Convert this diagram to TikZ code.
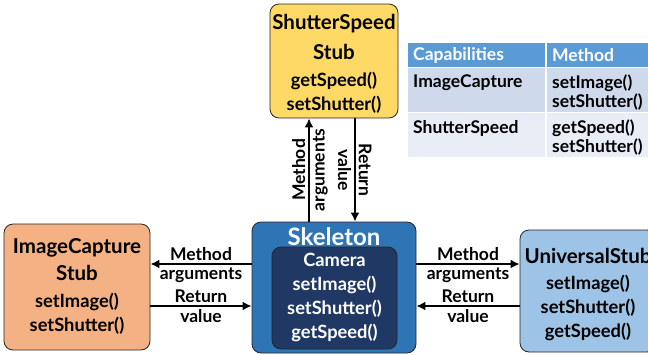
\documentclass[tikz,border=0pt]{standalone}
\usepackage{fontspec}
\setmainfont{Lato}
\usetikzlibrary{arrows.meta,positioning}

\definecolor{shutterfill}{HTML}{FFD966}
\definecolor{capturefill}{HTML}{F4B183}
\definecolor{skelfill}{HTML}{2E75B6}
\definecolor{camfill}{HTML}{1F3864}
\definecolor{univfill}{HTML}{9DC3E6}
\definecolor{headfill}{HTML}{5B9BD5}
\definecolor{oddfill}{HTML}{CFD9EC}
\definecolor{evenfill}{HTML}{E8EDF6}

\newcommand{\titlesize}{\fontsize{20.5}{24}\selectfont}
\newcommand{\methsize}{\fontsize{18.3}{24}\selectfont}

\begin{document}
\begin{tikzpicture}[x=1pt,y=-1pt,>={Latex[length=9pt,width=9pt]},font=\bfseries]
\tikzset{box/.style={draw=black!85,line width=0.8pt,rounded corners=9pt,inner sep=0pt}}
\tikzset{boxtext/.style={align=center,inner sep=0pt,font=\methsize\bfseries}}
\tikzset{flow/.style={->,line width=2.6pt}}
\tikzset{lbl/.style={font=\fontsize{17.5}{18}\selectfont\bfseries,inner sep=2.5pt}}
\tikzset{cell/.style={anchor=north west,inner sep=0pt,minimum height=44}}
\tikzset{celltext/.style={anchor=north west,inner sep=0pt,align=left,font=\fontsize{17.5}{19}\selectfont\bfseries}}

\useasboundingbox (0,0) rectangle (648,354);

% stubs
\node[box,fill=shutterfill,minimum width=128,minimum height=114] (shutter) at (334,61) {};
\node[boxtext] (shuttertext) at (334,64) {{\titlesize ShutterSpeed}\\[6pt]{\titlesize Stub}\\[3pt]getSpeed()\\setShutter()};
\node[box,fill=capturefill,minimum width=146,minimum height=126] (capture) at (77,287) {};
\node[boxtext] (capturetext) at (77,286) {{\titlesize ImageCapture}\\[3pt]{\titlesize Stub}\\[3pt]setImage()\\setShutter()};
\node[box,fill=univfill,minimum width=136,minimum height=122] (univ) at (588,291) {};
\node[boxtext] (univtext) at (588,295) {{\titlesize UniversalStub}\\[2pt]setImage()\\setShutter()\\getSpeed()};

% skeleton with camera
\node[box,fill=skelfill,minimum width=164,minimum height=131] (skel) at (334,287.5) {};
\node[text=white,inner sep=0pt,font=\fontsize{24}{24}\selectfont\bfseries] (skeltitle) at (334,237) {Skeleton};
\node[box,fill=camfill,minimum width=125,minimum height=102] (camera) at (334.5,298) {};
\node[boxtext,text=white] (cameratext) at (334.5,297.5) {Camera\\setImage()\\setShutter()\\getSpeed()};

% table
\node[cell,fill=headfill,minimum width=137,minimum height=24] (caphead) at (408,43) {};
\node[cell,fill=headfill,minimum width=110,minimum height=24] (methhead) at (547,43) {};
\node[cell,fill=oddfill,minimum width=137] (capone) at (408,68) {};
\node[cell,fill=oddfill,minimum width=110] (methone) at (547,68) {};
\node[cell,fill=evenfill,minimum width=137] (captwo) at (408,113) {};
\node[cell,fill=evenfill,minimum width=110] (methtwo) at (547,113) {};
\node[celltext,text=white,anchor=west] (capheadtext) at ([xshift=5pt]caphead.west) {Capabilities};
\node[celltext,text=white,anchor=west] (methheadtext) at ([xshift=5pt]methhead.west) {Method};
\node[celltext] (caponetext) at ([shift={(5,7)}]capone.north west) {ImageCapture};
\node[celltext] (methonetext) at ([shift={(5,7)}]methone.north west) {setImage()\\setShutter()};
\node[celltext] (captwotext) at ([shift={(5,7)}]captwo.north west) {ShutterSpeed};
\node[celltext] (methtwotext) at ([shift={(5,7)}]methtwo.north west) {getSpeed()\\setShutter()};

% calls and returns
\coordinate (upper) at (0,264);
\coordinate (lower) at (0,306);
\coordinate (leftx) at (309,0);
\coordinate (rightx) at (355,0);
\draw[flow] (skel.west |- upper) -- node[lbl,above] {Method} node[lbl,below] {arguments} (capture.east |- upper);
\draw[flow] (capture.east |- lower) -- node[lbl,above] {Return} node[lbl,below] {value} (skel.west |- lower);
\draw[flow] (skel.east |- upper) -- node[lbl,above] {Method} node[lbl,below] {arguments} (univ.west |- upper);
\draw[flow] (univ.west |- lower) -- node[lbl,above] {Return} node[lbl,below] {value} (skel.east |- lower);
\draw[flow] (skel.north -| leftx) -- node[lbl,rotate=90,anchor=south] {Method} node[lbl,rotate=90,anchor=north] {arguments} (shutter.south -| leftx);
\draw[flow] (shutter.south -| rightx) -- node[lbl,rotate=-90,anchor=north] {value} node[lbl,rotate=-90,anchor=south] {Return} (skel.north -| rightx);
\end{tikzpicture}
\end{document}
